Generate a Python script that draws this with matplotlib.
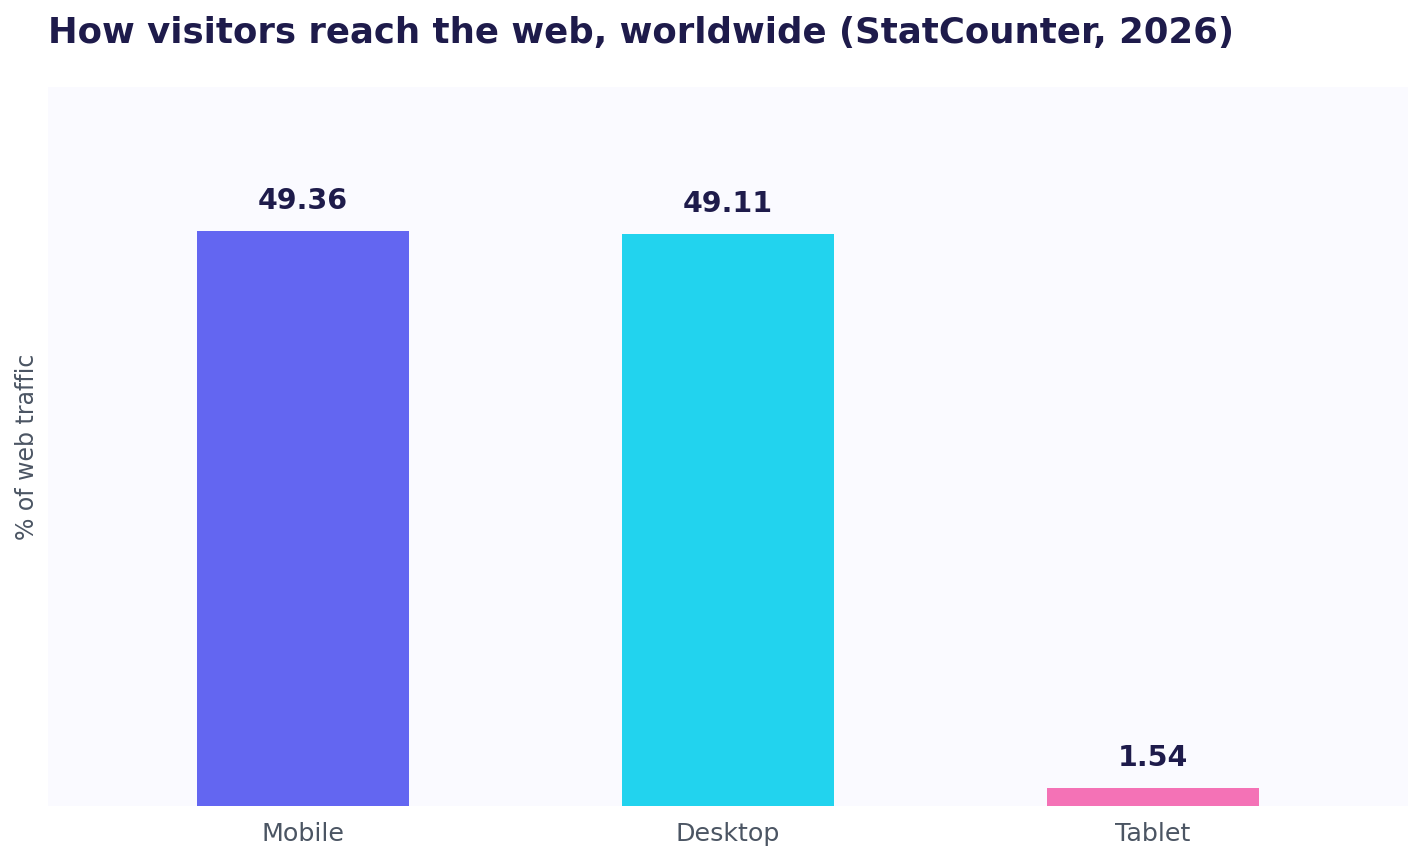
import matplotlib.pyplot as plt

# StatCounter worldwide platform share, 2026
platforms = ["Mobile", "Desktop", "Tablet"]
share_pct = [49.36, 49.11, 1.54]
bar_colors = ["#6366f1", "#22d3ee", "#f472b6"]

TITLE_COLOR = "#1e1b4b"
TEXT_GRAY = "#4b5563"

fig = plt.figure(figsize=(14.23, 8.64), dpi=100)
ax = fig.add_axes([48 / 1423, 58 / 864, 1360 / 1423, 719 / 864])
ax.set_facecolor("#fafaff")

x = range(len(platforms))
bars = ax.bar(x, share_pct, width=0.5, color=bar_colors)

for rect, val in zip(bars, share_pct):
    ax.annotate(f"{val:.2f}",
                xy=(rect.get_x() + rect.get_width() / 2, rect.get_height()),
                xytext=(0, 11.5), textcoords="offset points",
                ha="center", va="bottom",
                fontsize=20.5, fontweight="bold", color=TITLE_COLOR)

ax.set_xlim(-0.6, 2.6)
ax.set_ylim(0, max(share_pct) * 1.25)
ax.set_xticks(list(x))
ax.set_xticklabels(platforms, fontsize=18.3, color=TEXT_GRAY)
ax.tick_params(axis="x", length=0, pad=11.5)
ax.set_yticks([])
for s in ax.spines.values():
    s.set_visible(False)

fig.text(27 / 1423, 1 - 447 / 864, "% of web traffic", rotation=90,
         ha="center", va="center", fontsize=17, color=TEXT_GRAY)

fig.text(48 / 1423, 1 - 33 / 864, "How visitors reach the web, worldwide (StatCounter, 2026)",
         ha="left", va="center", fontsize=25.6, fontweight="bold", color=TITLE_COLOR)

fig.savefig("out.png", dpi=100)
